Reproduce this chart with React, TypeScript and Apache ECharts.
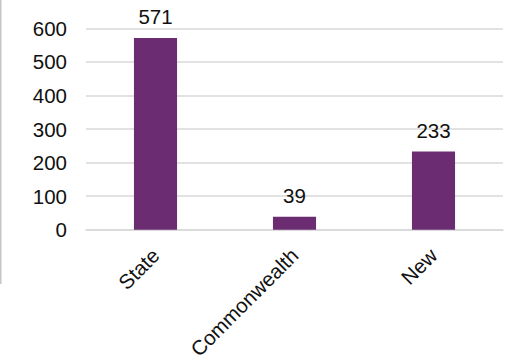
import React, { useEffect, useRef } from "react";
import * as echarts from "echarts";

const categories = ["State", "Commonwealth", "New"];
const values = [571, 39, 233];
const yTicks = { min: 0, max: 600, interval: 100 };

export default function App() {
  const ref = useRef<HTMLDivElement>(null);
  useEffect(() => {
    if (!ref.current) return;
    const chart = echarts.init(ref.current, null, { renderer: "svg" });
    chart.setOption({
      animation: false,
      textStyle: { fontFamily: "Liberation Sans, Arial, sans-serif" },
      grid: { left: 86, right: 5, top: 28.3, bottom: 130.3, containLabel: false },
      graphic: [
        {
          type: "rect",
          shape: { x: 0, y: 0, width: 1.5, height: 284 },
          style: { fill: "#c6c6c6" },
        },
      ],
      xAxis: {
        type: "category",
        data: categories,
        axisLine: { show: true, lineStyle: { color: "#d9d9d9", width: 1.5 } },
        axisTick: { show: false },
        axisLabel: {
          rotate: 45,
          interval: 0,
          margin: 22,
          fontSize: 20.5,
          color: "#111",
        },
      },
      yAxis: {
        type: "value",
        min: yTicks.min,
        max: yTicks.max,
        interval: yTicks.interval,
        axisLine: { show: false },
        axisTick: { show: false },
        splitLine: { show: true, lineStyle: { color: "#d9d9d9", width: 1.5 } },
        axisLabel: { margin: 19, fontSize: 20.5, color: "#111" },
      },
      series: [
        {
          type: "bar",
          data: values,
          barWidth: "31%",
          itemStyle: { color: "#6b2c72" },
          label: {
            show: true,
            position: "top",
            distance: 11,
            fontSize: 20.5,
            color: "#111",
          },
        },
      ],
    });
    return () => chart.dispose();
  }, []);
  return (
    <div
      ref={ref}
      style={{ position: "fixed", left: 0, top: 0, width: 508, height: 362, background: "#fff" }}
    />
  );
}
